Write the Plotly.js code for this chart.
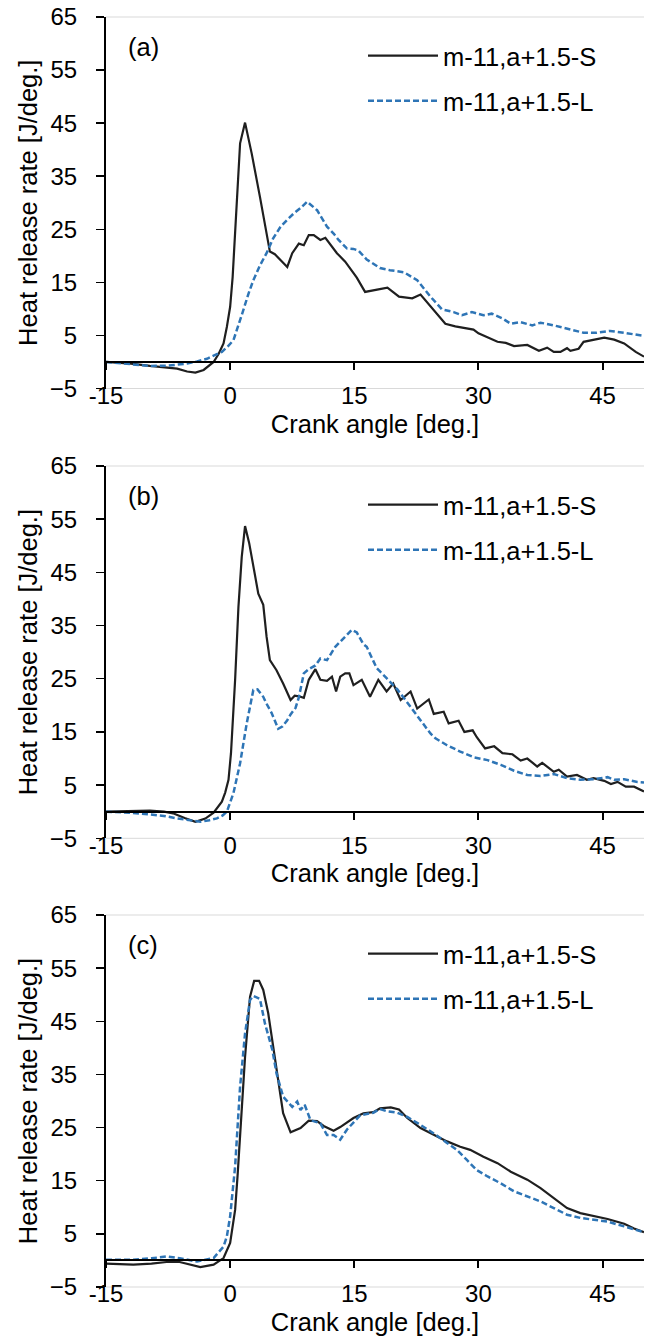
<!DOCTYPE html>
<html>
<head>
<meta charset="utf-8">
<script src="https://cdn.plot.ly/plotly-3.0.1.min.js"></script>
<style>
  html, body { margin: 0; padding: 0; background: #ffffff; }
  #chart { width: 645px; height: 1339px; }
</style>
</head>
<body>
<div id="chart"></div>
<script>
// Heat release rate vs crank angle, three injection cases (a), (b), (c)
const seriesNames = ['m-11,a+1.5-S', 'm-11,a+1.5-L'];
const panelLabels = ['(a)', '(b)', '(c)'];
const xTicks = [-15, 0, 15, 30, 45];
const yTicks = [-5, 5, 15, 25, 35, 45, 55, 65];

// (a) S
const angleA_S = [-15, -12, -9.7, -8, -6.4, -5.2, -4.2, -3.2, -2.0, -1.4, -0.8, -0.4, 0, 0.3, 0.6, 0.9, 1.2, 1.8, 2.6, 3.6, 4.2, 4.8, 5.4, 6.1, 6.9, 7.5, 8.3, 8.9, 9.5, 10.1, 10.9, 11.5, 12.2, 12.9, 13.9, 14.5, 15.3, 16.3, 17.7, 19.0, 20.4, 22.0, 23.0, 24.6, 26.0, 27.2, 29.4, 30.0, 31.0, 32.3, 33.3, 34.3, 35.9, 37.3, 38.3, 39.1, 39.9, 40.7, 41.1, 42.1, 42.7, 43.9, 45.2, 46.4, 47.6, 49.0, 50];
const hrrA_S = [0, -0.3, -0.75, -1.0, -1.25, -1.8, -2.0, -1.5, 0, 1.5, 3.5, 6.6, 10.4, 16, 24.2, 33, 41.2, 45.1, 39.3, 31.1, 26, 20.8, 20.3, 19.2, 17.9, 20.5, 22.3, 22.0, 23.9, 23.9, 23.0, 23.4, 22.0, 20.5, 18.9, 17.6, 15.9, 13.2, 13.6, 14.0, 12.3, 12.0, 12.7, 9.75, 7.2, 6.7, 6.1, 5.4, 4.7, 3.8, 3.6, 3.0, 3.2, 2.1, 2.7, 1.9, 1.9, 2.6, 2.1, 2.5, 3.8, 4.2, 4.6, 4.2, 3.5, 1.9, 1.0];
// (a) L
const angleA_L = [-15, -12, -9.7, -7.5, -5.2, -4, -2.8, -1.0, -0.3, 0.4, 1.0, 1.6, 2.2, 2.8, 3.6, 4.4, 5.2, 6.1, 6.9, 7.7, 8.5, 9.3, 10.5, 11.7, 12.5, 13.1, 14.1, 14.9, 15.5, 16.5, 18.1, 19.3, 21.0, 22.6, 24.2, 25.6, 27.0, 28.0, 29.2, 30.6, 31.6, 32.9, 33.9, 35.1, 36.5, 37.5, 39.1, 40.7, 42.7, 44.3, 45.9, 47.6, 50];
const hrrA_L = [0, -0.4, -0.75, -0.7, -0.3, 0.1, 0.6, 1.9, 2.9, 4.1, 6.8, 9.8, 12.8, 15.4, 18.2, 20.5, 23.3, 25.5, 26.8, 28.0, 29.0, 30.2, 28.6, 25.5, 24.2, 23.0, 21.4, 21.3, 21.0, 19.3, 17.7, 17.3, 16.9, 15.4, 12.3, 9.9, 9.4, 8.8, 9.4, 8.8, 9.1, 8.2, 7.2, 7.5, 6.9, 7.4, 6.9, 6.3, 5.5, 5.5, 5.85, 5.5, 4.9];

// (b) S
const angleB_S = [-15, -12, -9.7, -8, -6.9, -5.5, -4.2, -3, -2.0, -1.0, -0.6, -0.2, 0.1, 0.6, 1.0, 1.4, 1.8, 2.3, 2.8, 3.4, 4.0, 4.4, 4.8, 5.6, 6.4, 7.3, 7.8, 8.3, 8.9, 9.5, 10.3, 10.9, 11.7, 12.3, 12.8, 13.3, 13.9, 14.4, 14.9, 15.9, 16.9, 17.9, 18.9, 19.7, 20.6, 21.8, 22.6, 24.0, 24.6, 25.8, 26.4, 27.6, 28.3, 29.3, 29.8, 30.8, 31.9, 32.9, 34.1, 35.1, 35.9, 37.1, 37.7, 39.1, 39.7, 40.7, 41.9, 43.1, 43.9, 45.2, 46.0, 46.8, 47.8, 48.8, 50];
const hrrB_S = [0, 0.1, 0.2, 0, -0.3, -1.2, -1.9, -1.3, -0.2, 1.9, 3.6, 6.0, 11.0, 24.8, 38.5, 47.9, 53.7, 50.5, 46.1, 41.0, 38.9, 32.9, 28.5, 26.6, 24.1, 21.0, 21.8, 21.7, 21.4, 24.8, 26.8, 24.8, 24.6, 25.4, 22.6, 25.4, 26.0, 26.0, 23.8, 24.8, 21.6, 24.8, 22.6, 24.1, 21.0, 22.6, 19.4, 21.1, 18.4, 18.8, 16.6, 17.1, 15.0, 15.3, 14.0, 11.9, 12.3, 11.0, 10.8, 9.6, 10.0, 8.5, 9.2, 7.5, 7.9, 6.6, 6.9, 6.0, 6.3, 5.8, 5.2, 5.6, 4.7, 4.7, 3.8];
// (b) L
const angleB_L = [-15, -12, -9.7, -8, -6.4, -5, -3.6, -2.5, -1.6, -0.9, -0.4, 0.4, 1.2, 2.0, 2.5, 2.8, 3.3, 4.0, 4.4, 5.0, 5.8, 6.3, 6.9, 7.3, 7.9, 8.3, 8.9, 9.5, 10.3, 10.9, 11.7, 12.7, 13.7, 14.7, 15.3, 16.1, 16.5, 17.7, 18.9, 20.2, 21.8, 23.0, 24.2, 24.8, 26.2, 27.8, 29.5, 31.1, 32.7, 34.3, 35.9, 37.5, 39.1, 40.7, 42.3, 43.9, 45.6, 46.4, 47.6, 49.2, 50];
const hrrB_L = [0, -0.2, -0.5, -0.8, -1.25, -1.6, -1.9, -1.6, -1.25, -0.7, 0, 3.5, 9.1, 16.6, 21.0, 22.9, 23.0, 21.6, 20.3, 18.6, 15.6, 16.0, 17.2, 18.3, 19.5, 21.5, 26.0, 26.8, 27.5, 28.8, 28.5, 31.0, 32.6, 34.2, 33.7, 31.5, 31.0, 27.0, 25.1, 23.0, 19.7, 17.2, 14.7, 13.8, 12.5, 11.3, 10.2, 9.7, 8.8, 7.7, 6.9, 6.7, 7.1, 6.3, 6.0, 6.1, 6.5, 6.0, 6.1, 5.6, 5.5];

// (c) S
const angleC_S = [-15, -11.7, -9.5, -7.7, -6.1, -4.8, -3.6, -2.0, -0.8, 0, 0.3, 0.6, 0.9, 1.2, 1.8, 2.4, 2.9, 3.5, 4.0, 4.6, 5.2, 5.8, 6.4, 7.3, 8.5, 9.5, 10.5, 11.3, 12.5, 13.3, 14.9, 16.1, 17.3, 18.1, 19.4, 20.4, 21.4, 23.0, 24.6, 26.2, 27.8, 29.0, 30.6, 32.3, 33.9, 35.9, 37.5, 39.1, 40.7, 42.3, 43.9, 45.6, 47.6, 48.8, 50];
const hrrC_S = [-0.6, -0.8, -0.6, -0.3, -0.3, -0.8, -1.25, -0.8, 0.45, 3.3, 6.0, 9.5, 16.0, 23.9, 38.3, 49.6, 52.6, 52.6, 50.9, 46.5, 40.2, 33.3, 27.7, 24.1, 24.9, 26.3, 26.2, 25.3, 24.4, 25.1, 26.8, 27.7, 27.9, 28.6, 28.8, 28.4, 26.8, 24.9, 23.6, 22.4, 21.4, 20.8, 19.5, 18.3, 16.7, 15.2, 13.6, 11.7, 9.85, 8.9, 8.3, 7.8, 6.9, 6.0, 5.3];
// (c) L
const angleC_L = [-15, -11.7, -9.5, -7.7, -6.1, -4.0, -2.0, -0.8, -0.4, 0, 0.6, 1.2, 1.8, 2.4, 2.8, 3.6, 4.2, 5.1, 5.6, 6.4, 7.5, 8.1, 8.5, 9.0, 9.7, 10.9, 11.7, 12.5, 13.3, 14.1, 15.7, 17.3, 18.1, 18.9, 20.2, 21.4, 23.0, 24.6, 26.2, 27.4, 28.6, 29.8, 31.1, 32.7, 34.3, 35.9, 37.5, 39.1, 40.7, 42.3, 43.9, 45.6, 47.6, 50];
const hrrC_L = [0.15, 0.15, 0.4, 0.75, 0.4, -0.2, 0.45, 2.6, 4.5, 8.3, 17.7, 32.7, 42.7, 49.0, 49.8, 49.2, 44.6, 39.6, 35.2, 30.8, 28.9, 29.9, 28.3, 29.3, 26.4, 25.8, 23.6, 23.6, 22.7, 24.6, 27.3, 27.8, 28.5, 28.1, 27.8, 27.0, 25.5, 23.9, 22.1, 20.8, 18.9, 17.0, 15.8, 14.5, 13.0, 12.0, 11.1, 9.85, 8.6, 8.0, 7.7, 7.3, 6.4, 5.3];

const panels = [
  { s: [angleA_S, hrrA_S], l: [angleA_L, hrrA_L] },
  { s: [angleB_S, hrrB_S], l: [angleB_L, hrrB_L] },
  { s: [angleC_S, hrrC_S], l: [angleC_L, hrrC_L] }
];

const FONT = '"Liberation Sans", Arial, sans-serif';
const TICK_SIZE = 24, TEXT_SIZE = 25.5;
const W = 645, H = 1339;
const M = { l: 106, r: 1, t: 17, b: 52 };
const plotH = H - M.t - M.b;
// panel plot areas (top, bottom) in page pixels
const panelPx = [[17, 388.5], [466, 838.3], [915, 1287]];
const toPaper = p => (H - M.b - p) / plotH;
const Y_MIN = -5, Y_MAX = 65;

const traces = [];
const layout = {
  width: W, height: H,
  margin: M,
  paper_bgcolor: '#ffffff',
  plot_bgcolor: 'rgba(0,0,0,0)',
  font: { family: FONT, size: TEXT_SIZE, color: '#000000' },
  showlegend: true,
  annotations: [],
  shapes: [],
};

panels.forEach((p, i) => {
  const n = i + 1;
  const xs = n === 1 ? '' : String(n);
  const xName = 'x' + xs, yName = 'y' + xs;
  const legName = n === 1 ? 'legend' : 'legend' + n;
  const d0 = toPaper(panelPx[i][1]), d1 = toPaper(panelPx[i][0]);
  // horizontal axis crosses the vertical one at zero
  const zeroPos = d0 + (d1 - d0) * (0 - Y_MIN) / (Y_MAX - Y_MIN);

  traces.push({
    x: p.s[0], y: p.s[1], xaxis: xName, yaxis: yName,
    type: 'scatter', mode: 'lines', name: seriesNames[0],
    legend: legName, legendgroup: 'S' + n,
    line: { color: '#1f1f1f', width: 2.2 }
  });
  traces.push({
    x: p.l[0], y: p.l[1], xaxis: xName, yaxis: yName,
    type: 'scatter', mode: 'lines', name: seriesNames[1],
    legend: legName, legendgroup: 'L' + n,
    line: { color: '#2e75b6', width: 2.5, dash: '6px,3px' }
  });

  layout['xaxis' + xs] = {
    domain: [0, 1], anchor: 'free', position: zeroPos, range: [-15, 50],
    tickmode: 'array', tickvals: xTicks, ticktext: xTicks.map(String),
    showline: true, linecolor: '#000000', linewidth: 2,
    ticks: 'outside', ticklen: 7, tickwidth: 2, tickcolor: '#000000',
    ticklabelstandoff: 5,
    showgrid: false, zeroline: false,
    tickfont: { family: FONT, size: TICK_SIZE, color: '#000000' },
    title: { text: 'Crank angle [deg.]', font: { family: FONT, size: TEXT_SIZE, color: '#000000' }, standoff: 6 }
  };
  layout['yaxis' + xs] = {
    domain: [d0, d1], anchor: xName, range: [Y_MIN, Y_MAX],
    tickmode: 'array', tickvals: yTicks,
    ticks: 'outside', ticklen: 8, tickwidth: 1.5, tickcolor: '#000000',
    showline: true, linecolor: '#000000', linewidth: 2,
    zeroline: false, showgrid: false, ticklabelstandoff: 14,
    tickfont: { family: FONT, size: TICK_SIZE, color: '#000000' },
    title: { text: 'Heat release rate [J/deg.]', font: { family: FONT, size: TEXT_SIZE, color: '#000000' }, standoff: 5 }
  };
  // light frame lines along the top and bottom edges of each plot area
  [0, 1].forEach(edge => layout.shapes.push({
    type: 'line', xref: xName + ' domain', yref: yName + ' domain',
    x0: 0, x1: 1, y0: edge, y1: edge, layer: 'below',
    line: { color: '#d9d9d9', width: 1 }
  }));
  layout[legName] = {
    x: (363 - M.l) / (W - M.l - M.r), xanchor: 'left',
    y: toPaper(panelPx[i][0] + 15.5), yanchor: 'top',
    bgcolor: 'rgba(0,0,0,0)', borderwidth: 0,
    font: { family: FONT, size: TEXT_SIZE, color: '#000000' },
    traceorder: 'grouped', tracegroupgap: 9, itemwidth: 70
  };
  layout.annotations.push({
    text: panelLabels[i], xref: xName + ' domain', yref: yName + ' domain',
    x: 20 / 538, y: (panelPx[i][1] - panelPx[i][0] - 30) / (panelPx[i][1] - panelPx[i][0]),
    xanchor: 'left', yanchor: 'middle', showarrow: false,
    font: { family: FONT, size: TEXT_SIZE, color: '#000000' }
  });
});

Plotly.newPlot('chart', traces, layout, { staticPlot: true, displayModeBar: false });
</script>
</body>
</html>
